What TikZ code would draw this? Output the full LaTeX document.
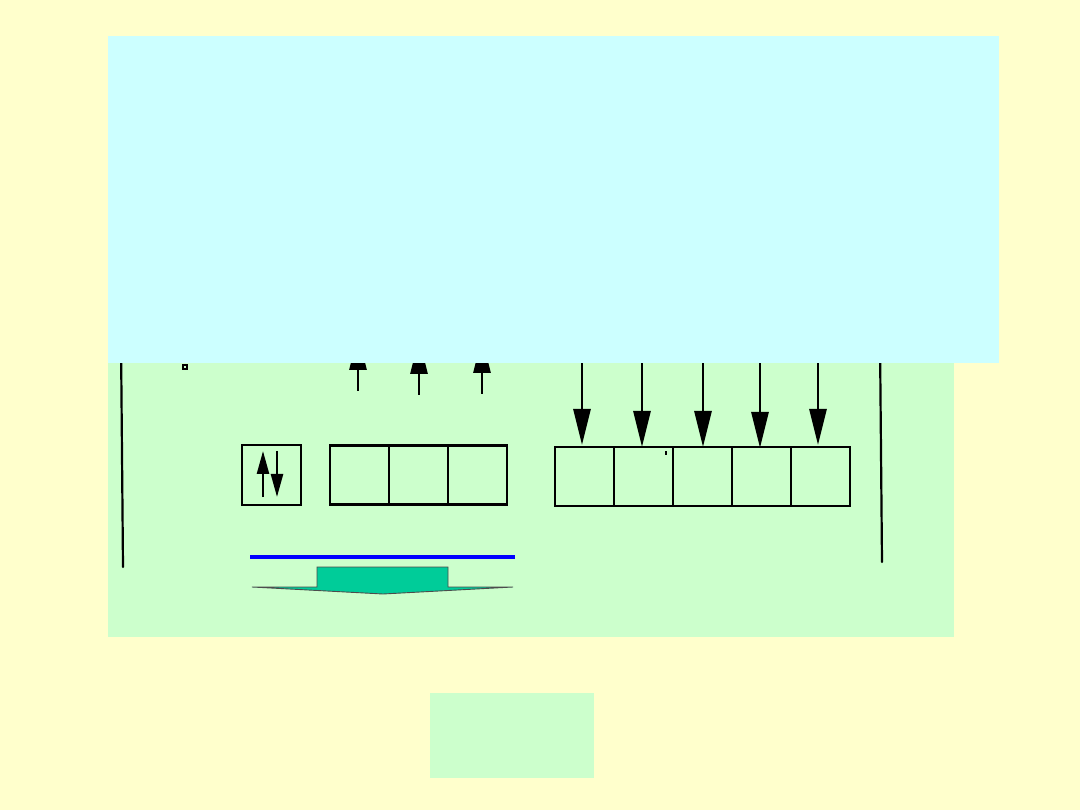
\documentclass[tikz,border=0pt]{standalone}
\usetikzlibrary{arrows.meta}
\definecolor{bgyellow}{HTML}{FFFFCC}
\definecolor{panelgreen}{HTML}{CCFFCC}
\definecolor{panelcyan}{HTML}{CCFFFF}
\definecolor{flatgreen}{HTML}{00CC99}
\tikzset{
  cell/.style={draw=black, line width=2.3pt, minimum width=59pt, minimum height=59pt, inner sep=0pt, outer sep=0pt},
  bigarrow/.style={line width=2.8pt, -{Triangle[length=36pt,width=17pt]}},
  smallarrow/.style={line width=2.4pt, -{Triangle[length=23pt,width=12pt]}},
  railline/.style={line width=2.2pt, line cap=round},
}
\begin{document}
\begin{tikzpicture}[x=1pt,y=-1pt]
\useasboundingbox (0,0) rectangle (1080,810);
\fill[bgyellow] (0,0) rectangle (1080,810);
% green panel
\fill[panelgreen] (108,36) rectangle (954,637);
% bottom green box
\fill[panelgreen] (430,693) rectangle (594,778);
% rails
\coordinate (lt) at (121,340); \coordinate (lb) at (123,567);
\coordinate (rt) at (880,340); \coordinate (rb) at (882,562);
\draw[railline] (lt) -- (lb);
\draw[railline] (rt) -- (rb);
% small square
\node[draw=black, line width=1.4pt, fill=panelgreen, minimum size=4pt, inner sep=0pt] (sq) at (185,367) {};
% small box with up/down arrows
\node[cell, minimum width=59pt, minimum height=60pt] (s) at (271.5,475) {};
\coordinate (su1) at (263,497); \coordinate (su2) at (263,451);
\coordinate (sd1) at (277,451); \coordinate (sd2) at (277,497);
\draw[smallarrow] (su1) -- (su2);
\draw[smallarrow] (sd1) -- (sd2);
% three cells
\node[cell] (a1) at (359.5,475) {};
\node[cell] (a2) at (418.5,475) {};
\node[cell] (a3) at (477.5,475) {};
% five cells
\node[cell] (b1) at (584.5,476.5) {};
\node[cell] (b2) at (643.5,476.5) {};
\node[cell] (b3) at (702.5,476.5) {};
\node[cell] (b4) at (761.5,476.5) {};
\node[cell] (b5) at (820.5,476.5) {};
\fill[black] (665.3,451) rectangle (666.7,455);
% up arrows (tips hidden under cyan panel)
\coordinate (u1s) at (358,391); \coordinate (u1e) at (358,334);
\coordinate (u2s) at (419,395); \coordinate (u2e) at (419,338);
\coordinate (u3s) at (482,394); \coordinate (u3e) at (482,337);
\draw[bigarrow] (u1s) -- (u1e);
\draw[bigarrow] (u2s) -- (u2e);
\draw[bigarrow] (u3s) -- (u3e);
% down arrows
\coordinate (d1s) at (582,340); \coordinate (d1e) at (582,445);
\coordinate (d2s) at (642,340); \coordinate (d2e) at (642,447);
\coordinate (d3s) at (703,340); \coordinate (d3e) at (703,447);
\coordinate (d4s) at (760,340); \coordinate (d4e) at (760,448);
\coordinate (d5s) at (818,340); \coordinate (d5e) at (818,445);
\draw[bigarrow] (d1s) -- (d1e);
\draw[bigarrow] (d2s) -- (d2e);
\draw[bigarrow] (d3s) -- (d3e);
\draw[bigarrow] (d4s) -- (d4e);
\draw[bigarrow] (d5s) -- (d5e);
% blue line
\coordinate (bl) at (250,557); \coordinate (br) at (515,557);
\draw[blue, line width=4pt] (bl) -- (br);
% flat green arrow
\draw[fill=flatgreen, draw=black!70, line width=0.9pt]
  (252,587) -- (317,587) -- (317,567) -- (448,567) -- (448,587) -- (513,587) -- (383,594) -- cycle;
% cyan panel on top
\fill[panelcyan] (108,36) rectangle (999,363);
\end{tikzpicture}
\end{document}
